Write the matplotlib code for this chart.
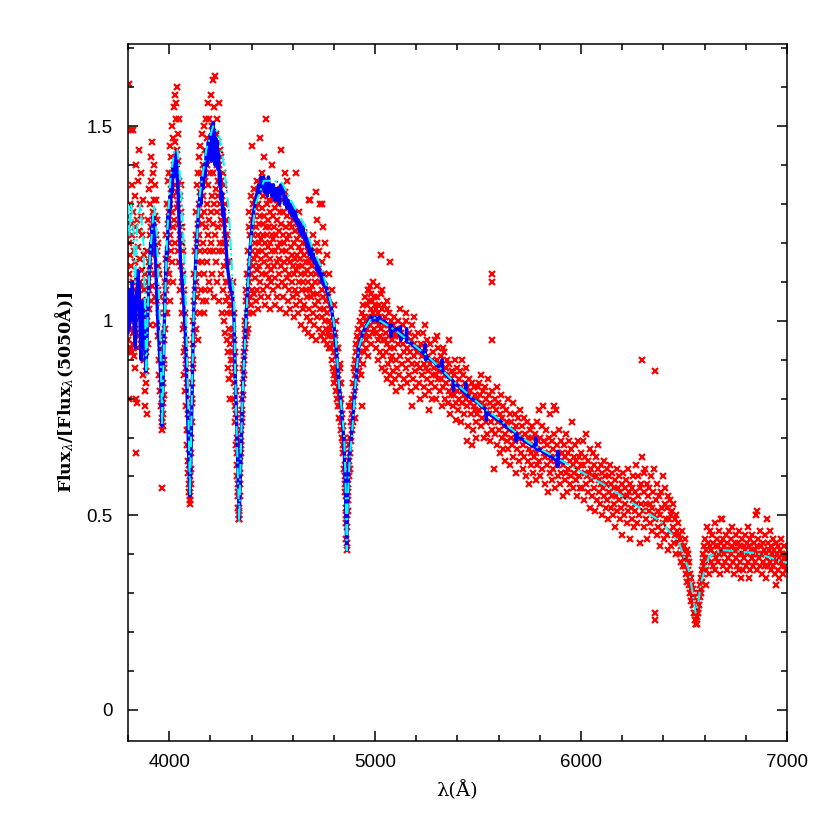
import numpy as np
import matplotlib
matplotlib.use("Agg")
import matplotlib.pyplot as plt
from matplotlib.ticker import MultipleLocator

# --------------------------------------------------
# 1. Data
# --------------------------------------------------
# model spectrum (cyan dash-dot)
model_wl = [3800, 3808, 3815, 3825, 3835, 3845, 3860, 3875, 3882, 3889,
            3896, 3905, 3926, 3940, 3952, 3960, 3966, 3972, 3980, 3990,
            4005, 4025, 4040, 4057, 4072, 4082, 4092, 4101, 4110, 4120,
            4145, 4180, 4213, 4242, 4266, 4290, 4308, 4315, 4320, 4328,
            4340, 4350, 4362, 4378, 4395, 4420, 4460, 4500, 4548, 4615,
            4664, 4693, 4737, 4766, 4790, 4810, 4824, 4840, 4849, 4856,
            4862, 4868, 4877, 4888, 4905, 4920, 4950, 4985, 5010, 5100,
            5260, 5390, 5520, 5750, 5907, 6140, 6390, 6475, 6523, 6545,
            6556, 6568, 6582, 6620, 6684, 6850, 7000]
model_fx = [1.30, 1.22, 1.30, 1.26, 1.10, 1.24, 1.30, 1.20, 1.05, 0.86,
            1.02, 1.15, 1.30, 1.22, 1.05, 0.88, 0.73, 0.88, 1.05, 1.22,
            1.36, 1.44, 1.44, 1.35, 1.18, 1.02, 0.80, 0.55, 0.80, 1.05,
            1.31, 1.44, 1.50, 1.48, 1.40, 1.28, 1.10, 1.05, 0.88, 0.71,
            0.48, 0.71, 0.88, 1.05, 1.20, 1.30, 1.36, 1.36, 1.355, 1.285,
            1.24, 1.19, 1.14, 1.087, 1.036, 0.95, 0.84, 0.76, 0.71, 0.60,
            0.41, 0.55, 0.65, 0.71, 0.84, 0.93, 0.98, 1.01, 1.005, 0.975,
            0.907, 0.84, 0.78, 0.686, 0.64, 0.57, 0.483, 0.43, 0.36, 0.29,
            0.25, 0.27, 0.326, 0.393, 0.411, 0.403, 0.378]

# observed spectrum (blue)
blue_wl = [3800, 3803, 3806, 3809, 3812, 3815, 3818, 3821, 3824, 3827,
           3830, 3833, 3836, 3839, 3842, 3845, 3848, 3851, 3854, 3857,
           3860, 3864, 3868, 3872, 3876, 3880, 3884, 3887, 3890, 3894,
           3898, 3902, 3906, 3910, 3913, 3916, 3919, 3922, 3925, 3928,
           3931, 3935, 3939, 3943, 3947, 3951, 3955, 3959, 3962, 3965,
           3968, 3971, 3975, 3979, 3983, 3987, 3991, 3995, 3999, 4003,
           4007, 4011, 4015, 4019, 4023, 4027, 4031, 4035, 4039, 4043,
           4047, 4051, 4055, 4060, 4065, 4070, 4075, 4080, 4084, 4088,
           4092, 4096, 4099, 4101, 4104, 4108, 4112, 4116, 4120, 4125,
           4130, 4135, 4140, 4145, 4150, 4155, 4160, 4165, 4170, 4175,
           4180, 4185, 4190, 4195, 4200, 4205, 4208, 4211, 4214, 4217,
           4220, 4223, 4226, 4229, 4232, 4236, 4240, 4244, 4248, 4252,
           4256, 4260, 4265, 4270, 4275, 4280, 4285, 4290, 4295, 4300,
           4305, 4310, 4315, 4320, 4325, 4330, 4335, 4338, 4340, 4343,
           4347, 4351, 4356, 4362, 4368, 4374, 4380, 4386, 4392, 4398,
           4404, 4410, 4416, 4422, 4428, 4434, 4440, 4446, 4452, 4458,
           4464, 4470, 4476, 4482, 4488, 4494, 4500, 4506, 4512, 4518,
           4524, 4530, 4536, 4542, 4548, 4554, 4560, 4566, 4572, 4578,
           4584, 4590, 4596, 4602, 4608, 4614, 4620, 4626, 4632, 4638,
           4644, 4650, 4656, 4662, 4668, 4674, 4680, 4686, 4692, 4698,
           4704, 4710, 4716, 4722, 4728, 4734, 4740, 4746, 4752, 4758,
           4764, 4770, 4776, 4782, 4788, 4794, 4800, 4806, 4812, 4818,
           4824, 4830, 4836, 4842, 4846, 4850, 4854, 4857, 4860, 4862,
           4864, 4867, 4871, 4876, 4882, 4888, 4895, 4902, 4910, 4920,
           4930, 4940, 4950, 4960, 4970, 4980, 4990, 5000, 5010, 5020,
           5030, 5045, 5060, 5075, 5078, 5080, 5082, 5090, 5105, 5120,
           5123, 5125, 5127, 5135, 5150, 5153, 5155, 5157, 5165, 5180,
           5195, 5210, 5225, 5240, 5243, 5245, 5247, 5255, 5270, 5285,
           5300, 5315, 5323, 5325, 5327, 5340, 5355, 5370, 5378, 5380,
           5382, 5395, 5410, 5425, 5438, 5440, 5442, 5455, 5470, 5485,
           5500, 5515, 5530, 5538, 5540, 5542, 5555, 5570, 5585, 5600,
           5615, 5630, 5645, 5660, 5675, 5683, 5685, 5687, 5700, 5715,
           5730, 5745, 5760, 5775, 5778, 5780, 5782, 5795, 5810, 5825,
           5840, 5855, 5870, 5880, 5885, 5888, 5890, 5892, 5905, 5915]
blue_fx = [0.97, 1.05, 0.98, 1.08, 1.00, 1.07, 1.01, 1.10, 1.03, 1.06,
           0.99, 0.95, 0.93, 1.00, 1.08, 1.04, 1.13, 1.07, 1.10, 1.02,
           0.96, 0.90, 0.98, 1.05, 1.02, 0.96, 0.90, 0.87, 0.91, 0.98,
           1.04, 1.10, 1.15, 1.20, 1.17, 1.24, 1.20, 1.27, 1.22, 1.26,
           1.19, 1.14, 1.08, 1.02, 0.98, 0.94, 0.90, 0.85, 0.79, 0.73,
           0.77, 0.86, 0.96, 1.05, 1.12, 1.19, 1.17, 1.27, 1.24, 1.32,
           1.29, 1.37, 1.33, 1.40, 1.37, 1.42, 1.38, 1.43, 1.37, 1.33,
           1.27, 1.21, 1.15, 1.12, 1.08, 1.05, 1.00, 0.95, 0.87, 0.79,
           0.71, 0.63, 0.57, 0.55, 0.60, 0.72, 0.85, 0.95, 1.04, 1.11,
           1.17, 1.22, 1.26, 1.30, 1.33, 1.30, 1.37, 1.34, 1.40, 1.37,
           1.44, 1.40, 1.46, 1.42, 1.48, 1.41, 1.50, 1.44, 1.51, 1.43,
           1.49, 1.40, 1.47, 1.41, 1.46, 1.39, 1.43, 1.35, 1.38, 1.31,
           1.33, 1.27, 1.29, 1.23, 1.20, 1.16, 1.13, 1.11, 1.09, 1.08,
           1.07, 1.05, 1.00, 0.88, 0.78, 0.68, 0.58, 0.52, 0.49, 0.55,
           0.63, 0.71, 0.80, 0.88, 0.95, 1.02, 1.07, 1.12, 1.18, 1.22,
           1.25, 1.28, 1.30, 1.32, 1.33, 1.35, 1.33, 1.37, 1.34, 1.37,
           1.33, 1.36, 1.32, 1.37, 1.33, 1.35, 1.32, 1.35, 1.31, 1.34,
           1.31, 1.34, 1.30, 1.35, 1.33, 1.34, 1.30, 1.32, 1.29, 1.31,
           1.28, 1.30, 1.27, 1.29, 1.26, 1.28, 1.25, 1.26, 1.23, 1.25,
           1.22, 1.24, 1.21, 1.22, 1.19, 1.21, 1.17, 1.19, 1.16, 1.18,
           1.15, 1.16, 1.13, 1.15, 1.12, 1.13, 1.10, 1.12, 1.09, 1.10,
           1.08, 1.07, 1.06, 1.05, 1.03, 1.01, 0.99, 0.96, 0.92, 0.88,
           0.84, 0.81, 0.78, 0.74, 0.71, 0.66, 0.60, 0.54, 0.46, 0.41,
           0.47, 0.54, 0.61, 0.66, 0.69, 0.72, 0.78, 0.82, 0.87, 0.93,
           0.95, 0.97, 0.98, 0.99, 1.00, 1.01, 1.00, 1.01, 1.00, 1.01,
           0.995, 1.00, 0.99, 0.985, 0.96, 0.99, 0.975, 0.975, 0.98, 0.965,
           0.985, 0.95, 0.965, 0.96, 0.955, 0.98, 0.945, 0.95, 0.945, 0.94,
           0.93, 0.93, 0.92, 0.915, 0.94, 0.90, 0.91, 0.905, 0.90, 0.895,
           0.885, 0.88, 0.875, 0.90, 0.87, 0.865, 0.855, 0.85, 0.845, 0.82,
           0.84, 0.835, 0.83, 0.82, 0.815, 0.84, 0.81, 0.805, 0.80, 0.795,
           0.79, 0.78, 0.775, 0.77, 0.745, 0.765, 0.76, 0.755, 0.75, 0.745,
           0.74, 0.73, 0.725, 0.72, 0.715, 0.71, 0.69, 0.71, 0.70, 0.695,
           0.69, 0.685, 0.68, 0.675, 0.675, 0.70, 0.67, 0.67, 0.665, 0.66,
           0.655, 0.65, 0.645, 0.64, 0.625, 0.665, 0.63, 0.645, 0.64, 0.635]

# photometric points (red crosses), grouped by wavelength range
red_wl_a = [3801, 3802, 3803, 3804, 3805, 3806, 3807, 3808, 3809, 3810,
            3811, 3812, 3813, 3814, 3815, 3816, 3817, 3818, 3819, 3820,
            3821, 3822, 3823, 3824, 3825, 3826, 3827, 3828, 3829, 3830,
            3832, 3833, 3834, 3835, 3836, 3837, 3838, 3839, 3840, 3841,
            3843, 3844, 3845, 3846, 3847, 3848, 3849, 3850, 3852, 3853,
            3854, 3856, 3857, 3858, 3860, 3861, 3862, 3864, 3865, 3866,
            3868, 3869, 3870, 3872, 3873, 3874, 3876, 3877, 3878, 3880,
            3881, 3882, 3884, 3885, 3886, 3888, 3889, 3890, 3892, 3893,
            3894, 3896, 3897, 3898, 3900, 3901, 3902, 3904, 3905, 3906,
            3908, 3909, 3910, 3912, 3913, 3914, 3916, 3917, 3918, 3920,
            3921, 3922, 3924, 3925, 3926, 3928, 3929, 3930, 3932, 3933,
            3934, 3936, 3937, 3938, 3940, 3941, 3942, 3944, 3945, 3946,
            3948, 3949, 3950, 3952, 3953, 3954, 3956, 3957, 3958, 3960,
            3961, 3962, 3963, 3964, 3965, 3966, 3967, 3968, 3969, 3970,
            3972, 3973, 3974, 3976, 3977, 3978, 3980, 3981, 3982, 3984]
red_fx_a = [1.05, 0.95, 1.61, 1.20, 0.80, 1.12, 0.93, 1.30, 1.00, 1.17,
            0.92, 1.08, 1.25, 0.93, 1.49, 0.98, 1.14, 0.92, 1.22, 1.04,
            1.35, 0.97, 1.10, 1.49, 0.94, 1.28, 1.02, 1.18, 0.91, 1.08,
            1.32, 0.88, 1.15, 0.98, 1.24, 0.80, 1.06, 0.66, 1.40, 0.97,
            1.12, 0.79, 1.26, 1.03, 0.93, 1.19, 1.36, 1.08, 0.96, 1.23,
            1.44, 1.10, 1.01, 1.30, 1.16, 0.94, 1.27, 1.05, 1.38, 1.13,
            0.98, 1.22, 1.09, 0.86, 1.31, 1.02, 1.17, 0.90, 1.08, 0.95,
            0.82, 1.12, 0.78, 0.96, 0.87, 0.84, 0.92, 1.05, 0.76, 1.00,
            1.18, 0.94, 1.10, 1.26, 1.03, 1.15, 1.34, 1.08, 1.22, 0.99,
            1.30, 1.14, 1.42, 1.05, 1.24, 1.36, 1.17, 1.46, 1.09, 1.28,
            1.20, 1.38, 1.12, 1.31, 1.24, 1.40, 1.06, 1.27, 1.18, 1.35,
            0.99, 1.22, 1.12, 1.31, 1.05, 1.18, 1.26, 0.96, 1.14, 1.08,
            1.20, 0.90, 1.02, 1.12, 0.86, 0.97, 1.06, 0.82, 0.93, 0.85,
            0.78, 0.92, 0.74, 0.80, 0.57, 0.75, 0.72, 0.76, 0.73, 0.79,
            0.84, 0.90, 0.81, 0.95, 0.88, 1.02, 0.98, 1.10, 1.05, 1.16]

red_wl_b = [3985, 3986, 3988, 3989, 3990, 3992, 3993, 3994, 3996, 3997,
            3998, 4000, 4001, 4002, 4004, 4005, 4006, 4008, 4009, 4010,
            4012, 4013, 4014, 4016, 4017, 4018, 4020, 4021, 4022, 4024,
            4025, 4026, 4028, 4029, 4030, 4032, 4033, 4034, 4036, 4037,
            4038, 4040, 4041, 4042, 4044, 4045, 4046, 4048, 4049, 4050,
            4052, 4053, 4054, 4056, 4057, 4058, 4060, 4061, 4062, 4064,
            4065, 4066, 4068, 4069, 4070, 4072, 4073, 4074, 4076, 4077,
            4078, 4080, 4081, 4082, 4084, 4085, 4086, 4088, 4089, 4090,
            4092, 4093, 4094, 4096, 4097, 4098, 4099, 4100, 4101, 4102,
            4103, 4104, 4105, 4106, 4108, 4109, 4110, 4112, 4113, 4114,
            4116, 4117, 4118, 4120, 4121, 4122, 4124, 4125, 4126, 4128]
red_fx_b = [1.08, 1.22, 1.13, 1.30, 1.02, 1.25, 1.16, 1.36, 1.10, 1.28,
            1.20, 1.38, 1.12, 1.30, 1.45, 1.22, 1.05, 1.34, 1.18, 1.42,
            1.28, 1.50, 1.15, 1.38, 1.24, 1.47, 1.32, 1.10, 1.55, 1.40,
            1.26, 1.58, 1.35, 1.46, 1.20, 1.52, 1.38, 1.56, 1.29, 1.44,
            1.60, 1.33, 1.48, 1.18, 1.41, 1.30, 1.52, 1.25, 1.36, 1.15,
            1.32, 1.22, 1.08, 1.28, 1.14, 1.35, 1.20, 1.02, 1.24, 1.10,
            0.98, 1.18, 1.05, 1.12, 0.92, 1.08, 0.99, 0.86, 1.02, 0.93,
            0.82, 0.95, 0.88, 0.78, 0.90, 0.72, 0.84, 0.68, 0.76, 0.64,
            0.72, 0.61, 0.67, 0.58, 0.63, 0.56, 0.60, 0.54, 0.57, 0.55,
            0.53, 0.58, 0.62, 0.66, 0.70, 0.74, 0.79, 0.84, 0.80, 0.90,
            0.94, 0.88, 1.00, 1.05, 0.97, 1.12, 1.08, 1.18, 1.02, 1.22]

red_wl_c = [4130, 4131, 4132, 4134, 4135, 4136, 4138, 4139, 4140, 4142,
            4143, 4144, 4146, 4147, 4148, 4150, 4151, 4152, 4154, 4155,
            4156, 4158, 4159, 4160, 4162, 4163, 4164, 4166, 4167, 4168,
            4170, 4171, 4172, 4174, 4175, 4176, 4178, 4179, 4180, 4182,
            4183, 4184, 4186, 4187, 4188, 4190, 4191, 4192, 4194, 4195,
            4196, 4198, 4199, 4200, 4202, 4203, 4204, 4206, 4207, 4208,
            4210, 4211, 4212, 4214, 4215, 4216, 4218, 4219, 4220, 4222,
            4223, 4224, 4226, 4227, 4228, 4230, 4231, 4232, 4234, 4235,
            4236, 4238, 4239, 4240, 4242, 4243, 4244, 4246, 4247, 4248,
            4250, 4251, 4252, 4254, 4255, 4256, 4258, 4259, 4260, 4262,
            4263, 4264, 4266, 4267, 4268, 4270, 4271, 4272, 4274, 4275,
            4276, 4278, 4279, 4280, 4282, 4283, 4284, 4286, 4287, 4288,
            4290, 4291, 4292, 4294, 4295, 4296, 4298, 4299, 4300, 4302]
red_fx_c = [1.10, 1.28, 0.98, 1.20, 1.35, 1.06, 1.25, 1.15, 1.38, 0.95,
            1.30, 1.12, 1.42, 1.22, 1.02, 1.33, 1.18, 1.45, 1.08, 1.27,
            1.38, 1.15, 1.48, 1.25, 1.05, 1.40, 1.20, 1.32, 1.12, 1.50,
            1.28, 1.02, 1.44, 1.18, 1.36, 1.08, 1.52, 1.24, 1.05, 1.40,
            1.30, 1.15, 1.47, 1.22, 1.56, 1.35, 1.10, 1.42, 1.26, 1.52,
            1.18, 1.38, 1.08, 1.46, 1.28, 1.58, 1.20, 1.42, 1.32, 1.12,
            1.50, 1.25, 1.62, 1.38, 1.18, 1.46, 1.30, 1.55, 1.06, 1.42,
            1.22, 1.63, 1.34, 1.48, 1.15, 1.40, 1.28, 1.52, 1.10, 1.36,
            1.24, 1.46, 1.32, 1.56, 1.18, 1.40, 1.05, 1.30, 1.44, 1.20,
            1.36, 1.12, 1.26, 1.42, 1.02, 1.32, 1.18, 1.38, 1.08, 1.28,
            1.20, 1.35, 1.00, 1.25, 1.14, 1.30, 0.97, 1.22, 1.10, 1.26,
            1.05, 1.20, 0.95, 1.15, 1.02, 1.22, 0.92, 1.10, 0.88, 1.06,
            0.98, 1.15, 0.85, 1.04, 0.94, 0.80, 1.02, 0.90, 1.08, 0.96]

red_wl_d = [4304, 4306, 4307, 4308, 4310, 4311, 4312, 4314, 4315, 4316,
            4318, 4319, 4320, 4322, 4323, 4324, 4326, 4327, 4328, 4330,
            4331, 4332, 4334, 4335, 4336, 4337, 4338, 4339, 4340, 4341,
            4342, 4343, 4344, 4346, 4347, 4348, 4350, 4351, 4352, 4354,
            4355, 4356, 4358, 4359, 4360, 4362, 4363, 4364, 4366, 4367,
            4368, 4370, 4371, 4372, 4374, 4375, 4376, 4378, 4379, 4380]
red_fx_d = [0.92, 1.04, 0.86, 0.98, 1.10, 0.90, 0.80, 0.95, 1.02, 0.84,
            0.92, 0.78, 0.88, 0.74, 0.82, 0.68, 0.76, 0.63, 0.70, 0.60,
            0.66, 0.56, 0.58, 0.52, 0.55, 0.50, 0.49, 0.51, 0.49, 0.52,
            0.55, 0.58, 0.61, 0.64, 0.68, 0.66, 0.72, 0.69, 0.76, 0.74,
            0.80, 0.77, 0.84, 0.81, 0.88, 0.86, 0.92, 0.90, 0.95, 0.98,
            0.93, 1.00, 0.96, 1.05, 0.99, 1.08, 1.02, 1.12, 0.97, 1.06]

red_wl_e = [4381, 4382, 4384, 4385, 4386, 4388, 4389, 4390, 4392, 4393,
            4394, 4396, 4397, 4398, 4400, 4401, 4402, 4404, 4405, 4406,
            4408, 4409, 4410, 4412, 4413, 4414, 4416, 4417, 4418, 4420,
            4421, 4422, 4424, 4425, 4426, 4428, 4429, 4430, 4432, 4433,
            4434, 4436, 4437, 4438, 4440, 4441, 4442, 4444, 4445, 4446,
            4448, 4449, 4450, 4452, 4453, 4454, 4456, 4457, 4458, 4460,
            4461, 4462, 4464, 4465, 4466, 4468, 4469, 4470, 4472, 4473,
            4474, 4476, 4477, 4478, 4480, 4481, 4482, 4484, 4485, 4486,
            4488, 4489, 4490, 4492, 4493, 4494, 4496, 4497, 4498, 4500,
            4502, 4504, 4505, 4506, 4508, 4510, 4512, 4513, 4515, 4516,
            4518, 4520, 4522, 4523, 4525, 4527, 4528, 4530, 4532, 4534,
            4535, 4537, 4539, 4540, 4542, 4543, 4545, 4547, 4548, 4550,
            4552, 4554, 4555, 4557, 4559, 4560, 4562, 4564, 4565, 4567,
            4569, 4570, 4572, 4574, 4575, 4577, 4579, 4580, 4582, 4584,
            4585, 4587, 4589, 4590, 4592, 4594, 4595, 4597, 4599, 4600,
            4602, 4604, 4605, 4607, 4609, 4610, 4612, 4614, 4615, 4617,
            4619, 4620, 4622, 4624, 4625, 4627, 4629, 4630, 4632, 4634,
            4635, 4637, 4639, 4640, 4642, 4644, 4645, 4647, 4649, 4650,
            4652, 4654, 4655, 4657, 4659, 4660, 4662, 4664, 4665, 4667,
            4669, 4670, 4672, 4674, 4675, 4677, 4679, 4680, 4682, 4684,
            4685, 4687, 4689, 4690, 4692, 4694, 4695, 4697, 4699, 4700,
            4702, 4704, 4706, 4708, 4710, 4712, 4714, 4716, 4718, 4720,
            4722, 4724, 4726, 4728, 4730, 4732, 4734, 4736, 4738, 4740,
            4742, 4744, 4746, 4748, 4750, 4752, 4754, 4756, 4758, 4760,
            4762, 4764, 4766, 4768, 4770, 4772, 4774, 4776, 4778, 4780,
            4685, 4715, 4740, 4720, 4745, 4755, 4765, 4775, 4560, 4570]
red_fx_e = [1.12, 0.98, 1.18, 1.05, 1.24, 1.10, 1.02, 1.28, 1.15, 1.06,
            1.22, 1.32, 1.12, 1.04, 1.45, 1.18, 1.26, 1.08, 1.30, 1.14,
            1.22, 1.02, 1.34, 1.16, 1.27, 1.07, 1.20, 1.31, 1.11, 1.24,
            1.05, 1.17, 1.29, 1.13, 1.36, 1.08, 1.22, 1.18, 1.30, 1.03,
            1.25, 1.14, 1.33, 1.20, 1.47, 1.10, 1.27, 1.16, 1.35, 1.06,
            1.21, 1.29, 1.12, 1.38, 1.18, 1.25, 1.08, 1.32, 1.22, 1.42,
            1.15, 1.27, 1.04, 1.20, 1.34, 1.12, 1.24, 1.52, 1.17, 1.30,
            1.09, 1.22, 1.36, 1.14, 1.26, 1.06, 1.19, 1.31, 1.11, 1.24,
            1.16, 1.03, 1.28, 1.20, 1.10, 1.34, 1.13, 1.22, 1.40, 1.18,
            1.27, 1.08, 1.21, 1.31, 1.14, 1.24, 1.04, 1.18, 1.29, 1.11,
            1.22, 1.34, 1.15, 1.06, 1.26, 1.19, 1.09, 1.30, 1.16, 1.23,
            1.12, 1.28, 1.03, 1.20, 1.14, 1.44, 1.25, 1.10, 1.31, 1.18,
            1.22, 1.06, 1.28, 1.15, 1.20, 1.09, 1.33, 1.13, 1.24, 1.02,
            1.18, 1.27, 1.11, 1.21, 1.05, 1.16, 1.29, 1.12, 1.22, 1.08,
            1.25, 1.15, 1.03, 1.19, 1.28, 1.10, 1.17, 1.24, 1.06, 1.14,
            1.26, 1.01, 1.12, 1.20, 1.08, 1.16, 1.23, 1.04, 1.38, 1.13,
            1.21, 1.07, 1.17, 1.25, 1.02, 1.14, 1.19, 1.28, 1.10, 1.16,
            1.05, 1.22, 1.12, 0.99, 1.18, 1.08, 1.24, 1.14, 1.03, 1.20,
            1.10, 1.17, 1.04, 1.22, 1.12, 0.98, 1.15, 1.08, 1.20, 1.01,
            1.13, 1.06, 1.18, 0.97, 1.10, 1.15, 1.03, 1.31, 1.08, 1.16,
            1.00, 1.12, 1.06, 1.19, 0.96, 1.09, 1.14, 1.02, 1.22, 1.07,
            1.15, 0.99, 1.10, 1.18, 1.04, 1.12, 0.95, 1.20, 1.07, 1.01,
            1.14, 1.05, 1.18, 0.98, 1.10, 1.03, 1.30, 1.12, 0.96, 1.08,
            1.15, 1.01, 1.06, 0.97, 1.12, 1.03, 0.95, 1.09, 1.00, 1.05,
            0.98, 1.08, 0.94, 1.02, 0.97, 1.06, 0.93, 1.00, 0.96, 1.04,
            1.31, 1.33, 1.30, 1.26, 1.24, 1.20, 1.17, 1.12, 1.38, 1.36]

red_wl_f = [4782, 4784, 4786, 4788, 4790, 4792, 4794, 4796, 4798, 4800,
            4802, 4804, 4806, 4808, 4810, 4812, 4814, 4816, 4818, 4820,
            4822, 4824, 4826, 4828, 4830, 4832, 4834, 4836, 4838, 4840,
            4842, 4844, 4846, 4848, 4849, 4850, 4852, 4853, 4854, 4856,
            4857, 4858, 4859, 4860, 4861, 4862, 4863, 4864, 4865, 4866,
            4867, 4868, 4870, 4871, 4872, 4874, 4875, 4876, 4878, 4880,
            4882, 4884, 4885, 4886, 4888, 4890, 4892, 4894, 4895, 4896,
            4898, 4900, 4902, 4904, 4905, 4906, 4908, 4910, 4912, 4914,
            4916, 4918, 4920, 4922, 4924, 4926, 4928, 4930, 4932, 4934,
            4936, 4938, 4940, 4942, 4944, 4946, 4948, 4950, 4952, 4954,
            4956, 4958, 4960, 4962, 4964, 4966, 4968, 4970, 4972, 4974,
            4976, 4978, 4980, 4982, 4984, 4986, 4988, 4990, 4992, 4994,
            4996, 4998, 5000, 4970, 5010, 5029, 5072, 4790, 4800, 4810,
            4820, 4828, 4836, 4921, 4936, 4873, 4830, 4815, 4805, 4900]
red_fx_f = [0.98, 1.03, 0.93, 0.99, 0.90, 0.96, 0.88, 0.94, 0.86, 0.92,
            0.84, 0.95, 0.87, 0.82, 0.91, 0.85, 0.80, 0.88, 0.83, 0.78,
            0.86, 0.81, 0.75, 0.84, 0.78, 0.72, 0.80, 0.74, 0.70, 0.76,
            0.68, 0.73, 0.66, 0.70, 0.62, 0.67, 0.60, 0.63, 0.56, 0.58,
            0.52, 0.55, 0.48, 0.50, 0.44, 0.41, 0.43, 0.47, 0.50, 0.54,
            0.51, 0.58, 0.56, 0.62, 0.60, 0.64, 0.68, 0.62, 0.70, 0.66,
            0.74, 0.69, 0.78, 0.72, 0.76, 0.80, 0.74, 0.84, 0.78, 0.88,
            0.81, 0.86, 0.90, 0.83, 0.94, 0.88, 0.92, 0.85, 0.96, 0.89,
            0.93, 0.98, 0.87, 0.95, 0.90, 1.00, 0.92, 0.97, 0.86, 1.02,
            0.94, 0.99, 0.89, 1.04, 0.96, 0.92, 1.01, 0.97, 1.06, 0.93,
            1.00, 0.95, 1.04, 0.98, 0.91, 1.08, 1.01, 1.05, 0.96, 1.09,
            0.99, 1.03, 1.07, 0.94, 1.01, 1.05, 0.97, 1.10, 1.02, 0.98,
            1.06, 1.00, 1.04, 1.08, 1.09, 1.17, 1.15, 1.08, 1.04, 1.00,
            0.93, 0.89, 0.84, 0.87, 0.78, 0.78, 0.88, 0.93, 0.97, 0.75]

red_wl_g = [5002, 5004, 5006, 5008, 5010, 5012, 5014, 5016, 5018, 5020,
            5022, 5024, 5026, 5028, 5030, 5032, 5034, 5036, 5038, 5040,
            5042, 5044, 5046, 5048, 5050, 5052, 5054, 5056, 5058, 5060,
            5062, 5064, 5066, 5068, 5070, 5072, 5074, 5076, 5078, 5080,
            5082, 5084, 5086, 5088, 5090, 5092, 5094, 5096, 5098, 5100,
            5103, 5106, 5109, 5112, 5115, 5118, 5121, 5124, 5127, 5130,
            5133, 5136, 5139, 5142, 5145, 5148, 5151, 5154, 5157, 5160,
            5163, 5166, 5169, 5172, 5175, 5178, 5181, 5184, 5187, 5190,
            5193, 5196, 5199, 5202, 5205, 5208, 5211, 5214, 5217, 5220,
            5223, 5226, 5229, 5232, 5235, 5238, 5241, 5244, 5247, 5250,
            5253, 5256, 5259, 5262, 5265, 5268, 5271, 5274, 5277, 5280,
            5283, 5286, 5289, 5292, 5295, 5298, 5301, 5304, 5307, 5310,
            5313, 5316, 5319, 5322, 5325, 5328, 5331, 5334, 5337, 5340,
            5343, 5346, 5349, 5352, 5355, 5358, 5361, 5364, 5367, 5370,
            5373, 5376, 5379, 5382, 5385, 5388, 5391, 5394, 5397, 5400,
            5403, 5406, 5409, 5412, 5415, 5418, 5421, 5424, 5427, 5430,
            5433, 5436, 5439, 5442, 5445, 5448, 5451, 5454, 5457, 5460,
            5463, 5466, 5469, 5472, 5475, 5478, 5481, 5484, 5487, 5490,
            5493, 5496, 5499, 5240, 5190, 5300, 5420, 5180, 5100, 5260,
            5392, 5445, 5470, 5488, 5360, 5330, 5150, 5120, 5060, 5035]
red_fx_g = [0.97, 1.03, 0.93, 1.00, 1.06, 0.95, 1.02, 0.90, 0.99, 1.04,
            0.96, 1.01, 0.92, 1.07, 0.98, 0.88, 1.03, 0.95, 1.00, 0.91,
            0.99, 1.04, 0.87, 0.95, 1.01, 0.92, 0.97, 0.85, 1.03, 0.94,
            0.89, 0.99, 0.96, 1.02, 0.86, 0.93, 0.98, 0.90, 1.00, 0.84,
            0.95, 0.91, 0.99, 0.87, 0.97, 0.93, 1.01, 0.85, 0.96, 0.90,
            0.98, 0.88, 0.94, 1.00, 0.86, 0.96, 0.91, 0.83, 0.97, 0.89,
            0.94, 0.99, 0.85, 0.92, 0.96, 0.88, 1.02, 0.84, 0.93, 0.90,
            0.97, 0.86, 0.92, 0.82, 0.95, 0.89, 0.99, 0.85, 0.91, 0.94,
            0.87, 0.96, 0.83, 0.92, 0.89, 0.97, 0.84, 0.93, 0.88, 0.80,
            0.94, 0.86, 0.91, 0.97, 0.83, 0.89, 0.93, 0.81, 0.88, 0.95,
            0.85, 0.91, 0.87, 0.82, 0.94, 0.89, 0.84, 0.90, 0.80, 0.86,
            0.92, 0.88, 0.83, 0.95, 0.86, 0.80, 0.90, 0.85, 0.93, 0.87,
            0.82, 0.89, 0.85, 0.91, 0.78, 0.87, 0.83, 0.92, 0.86, 0.80,
            0.88, 0.84, 0.90, 0.79, 0.86, 0.82, 0.89, 0.76, 0.85, 0.81,
            0.87, 0.83, 0.78, 0.86, 0.81, 0.90, 0.84, 0.79, 0.88, 0.82,
            0.77, 0.85, 0.80, 0.87, 0.83, 0.74, 0.82, 0.79, 0.86, 0.81,
            0.76, 0.84, 0.80, 0.88, 0.78, 0.83, 0.73, 0.81, 0.85, 0.79,
            0.82, 0.76, 0.84, 0.80, 0.72, 0.78, 0.83, 0.77, 0.81, 0.74,
            0.80, 0.76, 0.83, 0.99, 1.01, 0.96, 0.90, 0.78, 0.82, 0.77,
            0.745, 0.69, 0.68, 0.70, 0.95, 0.93, 1.00, 1.03, 1.05, 1.08]

red_wl_h = [5503, 5506, 5509, 5512, 5515, 5518, 5521, 5524, 5527, 5530,
            5533, 5536, 5539, 5542, 5545, 5548, 5551, 5554, 5557, 5560,
            5563, 5566, 5567, 5567, 5567, 5569, 5572, 5575, 5578, 5581,
            5584, 5587, 5590, 5593, 5596, 5599, 5602, 5605, 5608, 5611,
            5614, 5617, 5620, 5623, 5626, 5629, 5632, 5635, 5638, 5641,
            5644, 5647, 5650, 5653, 5656, 5659, 5662, 5665, 5668, 5671,
            5674, 5677, 5680, 5683, 5686, 5689, 5692, 5695, 5698, 5701,
            5704, 5707, 5710, 5713, 5716, 5719, 5722, 5725, 5728, 5731,
            5734, 5737, 5740, 5743, 5746, 5749, 5752, 5755, 5758, 5761,
            5764, 5767, 5770, 5773, 5776, 5779, 5782, 5785, 5788, 5791,
            5794, 5797, 5800, 5803, 5806, 5809, 5812, 5815, 5818, 5821,
            5824, 5827, 5830, 5833, 5836, 5839, 5842, 5845, 5848, 5851,
            5854, 5857, 5860, 5863, 5866, 5869, 5872, 5875, 5878, 5881,
            5884, 5887, 5890, 5893, 5896, 5899, 5902, 5905, 5908, 5911,
            5914, 5917, 5920, 5923, 5926, 5929, 5932, 5935, 5938, 5941,
            5944, 5947, 5950, 5953, 5956, 5959, 5962, 5965, 5968, 5971,
            5974, 5977, 5980, 5983, 5986, 5989, 5992, 5995, 5998, 5870]
red_fx_h = [0.84, 0.77, 0.81, 0.73, 0.86, 0.79, 0.75, 0.82, 0.70, 0.78,
            0.83, 0.74, 0.80, 0.77, 0.71, 0.85, 0.76, 0.81, 0.69, 0.79,
            0.74, 0.82, 1.12, 1.10, 0.95, 0.72, 0.78, 0.62, 0.75, 0.80,
            0.71, 0.77, 0.83, 0.68, 0.74, 0.79, 0.72, 0.66, 0.76, 0.81,
            0.70, 0.75, 0.67, 0.78, 0.73, 0.64, 0.71, 0.77, 0.69, 0.74,
            0.80, 0.67, 0.72, 0.76, 0.63, 0.70, 0.74, 0.68, 0.79, 0.65,
            0.72, 0.76, 0.69, 0.61, 0.73, 0.67, 0.75, 0.70, 0.64, 0.71,
            0.77, 0.66, 0.70, 0.73, 0.62, 0.68, 0.75, 0.65, 0.71, 0.60,
            0.69, 0.74, 0.64, 0.70, 0.67, 0.58, 0.72, 0.66, 0.63, 0.70,
            0.73, 0.61, 0.68, 0.65, 0.71, 0.59, 0.66, 0.74, 0.63, 0.69,
            0.77, 0.64, 0.70, 0.60, 0.67, 0.73, 0.62, 0.78, 0.66, 0.69,
            0.58, 0.65, 0.72, 0.63, 0.68, 0.56, 0.66, 0.70, 0.61, 0.76,
            0.64, 0.69, 0.59, 0.67, 0.62, 0.71, 0.57, 0.65, 0.77, 0.63,
            0.68, 0.60, 0.66, 0.72, 0.58, 0.64, 0.69, 0.61, 0.66, 0.55,
            0.63, 0.68, 0.59, 0.65, 0.71, 0.61, 0.56, 0.66, 0.62, 0.69,
            0.58, 0.64, 0.67, 0.60, 0.74, 0.63, 0.57, 0.65, 0.61, 0.68,
            0.59, 0.64, 0.55, 0.62, 0.69, 0.60, 0.65, 0.57, 0.63, 0.78]

red_wl_i = [6002, 6005, 6008, 6011, 6014, 6017, 6020, 6023, 6026, 6029,
            6032, 6035, 6038, 6041, 6044, 6047, 6050, 6053, 6056, 6059,
            6062, 6065, 6068, 6071, 6074, 6077, 6080, 6083, 6086, 6089,
            6092, 6095, 6098, 6101, 6104, 6107, 6110, 6113, 6116, 6119,
            6122, 6125, 6128, 6131, 6134, 6137, 6140, 6143, 6146, 6149,
            6152, 6155, 6158, 6161, 6164, 6167, 6170, 6173, 6176, 6179,
            6182, 6185, 6188, 6191, 6194, 6197, 6200, 6203, 6206, 6209,
            6212, 6215, 6218, 6221, 6224, 6227, 6230, 6233, 6236, 6239,
            6242, 6245, 6248, 6251, 6254, 6257, 6260, 6263, 6266, 6269,
            6272, 6275, 6278, 6281, 6284, 6287, 6290, 6293, 6295, 6298,
            6301, 6304, 6307, 6310, 6313, 6316, 6319, 6322, 6325, 6328,
            6331, 6334, 6337, 6340, 6343, 6346, 6349, 6352, 6355, 6358,
            6358, 6358, 6361, 6364, 6367, 6370, 6373, 6376, 6379, 6382,
            6385, 6388, 6391, 6394, 6397, 6400, 6403, 6406, 6409, 6412,
            6415, 6418, 6421, 6424, 6427, 6430, 6433, 6436, 6439, 6442,
            6445, 6448, 6451, 6454, 6457, 6460, 6463, 6466, 6469, 6472,
            6475, 6478, 6481, 6484, 6487, 6490, 6493, 6496, 6499, 6305]
red_fx_i = [0.66, 0.57, 0.63, 0.69, 0.54, 0.61, 0.65, 0.58, 0.71, 0.60,
            0.56, 0.64, 0.61, 0.52, 0.67, 0.59, 0.62, 0.55, 0.66, 0.60,
            0.63, 0.57, 0.51, 0.65, 0.60, 0.54, 0.62, 0.68, 0.56, 0.59,
            0.53, 0.63, 0.58, 0.61, 0.50, 0.57, 0.64, 0.55, 0.60, 0.52,
            0.58, 0.62, 0.54, 0.49, 0.60, 0.56, 0.63, 0.52, 0.58, 0.55,
            0.61, 0.50, 0.57, 0.53, 0.59, 0.47, 0.55, 0.62, 0.51, 0.57,
            0.54, 0.60, 0.49, 0.56, 0.52, 0.58, 0.45, 0.55, 0.61, 0.50,
            0.57, 0.53, 0.59, 0.48, 0.55, 0.62, 0.51, 0.56, 0.44, 0.58,
            0.52, 0.57, 0.49, 0.60, 0.54, 0.47, 0.56, 0.51, 0.63, 0.53,
            0.48, 0.55, 0.60, 0.50, 0.57, 0.43, 0.53, 0.58, 0.90, 0.65,
            0.51, 0.56, 0.47, 0.62, 0.53, 0.49, 0.58, 0.44, 0.55, 0.51,
            0.57, 0.48, 0.53, 0.60, 0.46, 0.52, 0.56, 0.50, 0.62, 0.87,
            0.25, 0.23, 0.49, 0.54, 0.45, 0.58, 0.51, 0.47, 0.55, 0.42,
            0.50, 0.56, 0.46, 0.52, 0.60, 0.48, 0.44, 0.53, 0.57, 0.49,
            0.45, 0.52, 0.55, 0.41, 0.49, 0.54, 0.46, 0.50, 0.42, 0.51,
            0.47, 0.53, 0.43, 0.49, 0.45, 0.50, 0.40, 0.46, 0.48, 0.43,
            0.45, 0.40, 0.44, 0.38, 0.42, 0.46, 0.37, 0.41, 0.39, 0.61]

red_wl_j = [6502, 6504, 6506, 6508, 6510, 6512, 6514, 6516, 6518, 6520,
            6522, 6524, 6526, 6528, 6530, 6532, 6534, 6536, 6538, 6540,
            6542, 6544, 6546, 6548, 6550, 6552, 6554, 6556, 6558, 6560,
            6562, 6564, 6566, 6568, 6570, 6572, 6574, 6576, 6578, 6580,
            6582, 6584, 6586, 6588, 6590, 6592, 6594, 6596, 6598, 6600]
red_fx_j = [0.42, 0.37, 0.44, 0.39, 0.35, 0.41, 0.38, 0.33, 0.40, 0.36,
            0.34, 0.38, 0.32, 0.35, 0.30, 0.34, 0.31, 0.28, 0.32, 0.29,
            0.31, 0.27, 0.29, 0.25, 0.27, 0.23, 0.25, 0.22, 0.23, 0.22,
            0.24, 0.22, 0.26, 0.25, 0.28, 0.27, 0.30, 0.29, 0.32, 0.30,
            0.34, 0.31, 0.36, 0.33, 0.38, 0.35, 0.40, 0.37, 0.42, 0.39]

red_wl_k = [6603, 6606, 6609, 6612, 6615, 6618, 6621, 6624, 6627, 6630,
            6633, 6636, 6639, 6642, 6645, 6648, 6651, 6654, 6657, 6660,
            6663, 6666, 6669, 6672, 6675, 6678, 6681, 6684, 6687, 6690,
            6693, 6696, 6699, 6702, 6705, 6708, 6711, 6714, 6717, 6720,
            6723, 6726, 6729, 6732, 6735, 6738, 6741, 6744, 6747, 6750,
            6753, 6756, 6759, 6762, 6765, 6768, 6771, 6774, 6777, 6780,
            6783, 6786, 6789, 6792, 6795, 6798, 6801, 6804, 6807, 6810,
            6813, 6816, 6819, 6822, 6825, 6828, 6831, 6834, 6837, 6840,
            6843, 6846, 6849, 6852, 6855, 6858, 6861, 6864, 6867, 6870,
            6873, 6876, 6879, 6882, 6885, 6888, 6891, 6894, 6897, 6900,
            6903, 6906, 6909, 6912, 6915, 6918, 6921, 6924, 6927, 6930,
            6933, 6936, 6939, 6942, 6945, 6948, 6951, 6954, 6957, 6960,
            6963, 6966, 6969, 6972, 6975, 6978, 6981, 6984, 6987, 6990,
            6993, 6996, 6999, 6679, 6853, 6902, 6815, 6945, 6766, 6605]
red_fx_k = [0.44, 0.36, 0.41, 0.47, 0.39, 0.43, 0.35, 0.42, 0.46, 0.38,
            0.41, 0.45, 0.37, 0.43, 0.40, 0.48, 0.36, 0.42, 0.39, 0.44,
            0.38, 0.42, 0.46, 0.40, 0.35, 0.43, 0.41, 0.49, 0.37, 0.44,
            0.40, 0.42, 0.38, 0.45, 0.41, 0.36, 0.43, 0.39, 0.46, 0.41,
            0.37, 0.44, 0.40, 0.42, 0.47, 0.38, 0.41, 0.35, 0.43, 0.39,
            0.45, 0.41, 0.37, 0.43, 0.40, 0.46, 0.38, 0.42, 0.34, 0.44,
            0.40, 0.36, 0.42, 0.39, 0.45, 0.41, 0.37, 0.43, 0.40, 0.47,
            0.38, 0.42, 0.44, 0.36, 0.41, 0.39, 0.45, 0.40, 0.37, 0.43,
            0.41, 0.38, 0.50, 0.42, 0.36, 0.44, 0.40, 0.39, 0.46, 0.37,
            0.42, 0.40, 0.35, 0.43, 0.38, 0.41, 0.45, 0.37, 0.40, 0.34,
            0.39, 0.43, 0.37, 0.41, 0.46, 0.38, 0.36, 0.42, 0.40, 0.44,
            0.37, 0.41, 0.39, 0.35, 0.43, 0.38, 0.40, 0.36, 0.42, 0.39,
            0.34, 0.41, 0.38, 0.44, 0.37, 0.40, 0.35, 0.39, 0.42, 0.37,
            0.40, 0.36, 0.39, 0.49, 0.51, 0.49, 0.34, 0.32, 0.36, 0.32]

red_wl = np.concatenate([red_wl_a, red_wl_b, red_wl_c, red_wl_d, red_wl_e, red_wl_f,
                         red_wl_g, red_wl_h, red_wl_i, red_wl_j, red_wl_k])
red_fx = np.concatenate([red_fx_a, red_fx_b, red_fx_c, red_fx_d, red_fx_e, red_fx_f,
                         red_fx_g, red_fx_h, red_fx_i, red_fx_j, red_fx_k])

# --------------------------------------------------
# 2. Plot
# --------------------------------------------------
plt.rcParams["font.family"] = ["Liberation Sans", "DejaVu Sans"]
plt.rcParams["mathtext.fontset"] = "dejavuserif"

fig = plt.figure(figsize=(8.3, 8.3), dpi=100)
ax = fig.add_axes([0.1542, 0.1072, 0.794, 0.840])

ax.plot(red_wl, red_fx, "x", color="red", markersize=5, markeredgewidth=1.6, zorder=1)
ax.plot(model_wl, model_fx, color="black", lw=1.0, linestyle=(0, (1, 6)), zorder=2)
ax.plot(blue_wl, blue_fx, color="blue", lw=2.4, zorder=3)
ax.plot(model_wl, model_fx, color="cyan", lw=1.5, linestyle=(0, (5, 2, 1, 2)), zorder=4)

ax.set_xlim(3800, 7000)
ax.set_ylim(-0.08, 1.712)

ax.xaxis.set_major_locator(MultipleLocator(1000))
ax.xaxis.set_minor_locator(MultipleLocator(200))
ax.yaxis.set_major_locator(MultipleLocator(0.5))
ax.yaxis.set_minor_locator(MultipleLocator(0.1))
ax.set_yticks([0, 0.5, 1, 1.5])
ax.set_yticklabels(["0", "0.5", "1", "1.5"])

ax.tick_params(which="both", direction="in", top=True, right=True, width=1.1,
               labelsize=13.5)
ax.tick_params(which="major", length=7.5)
ax.tick_params(which="minor", length=4.5)
ax.tick_params(axis="y", which="major", pad=11)
ax.tick_params(axis="x", which="major", pad=9.5)
for sp in ax.spines.values():
    sp.set_linewidth(1.1)

ax.set_xlabel("λ(Å)", family="DejaVu Serif", fontsize=14)
ax.set_ylabel("Flux$_\\lambda$/[Flux$_\\lambda$(5050Å)]", family="DejaVu Serif",
              fontsize=12.5, fontweight="bold")
ax.xaxis.set_label_coords(0.5, -0.056)
ax.yaxis.set_label_coords(-0.079, 0.5)

fig.savefig("out.png", dpi=100)
